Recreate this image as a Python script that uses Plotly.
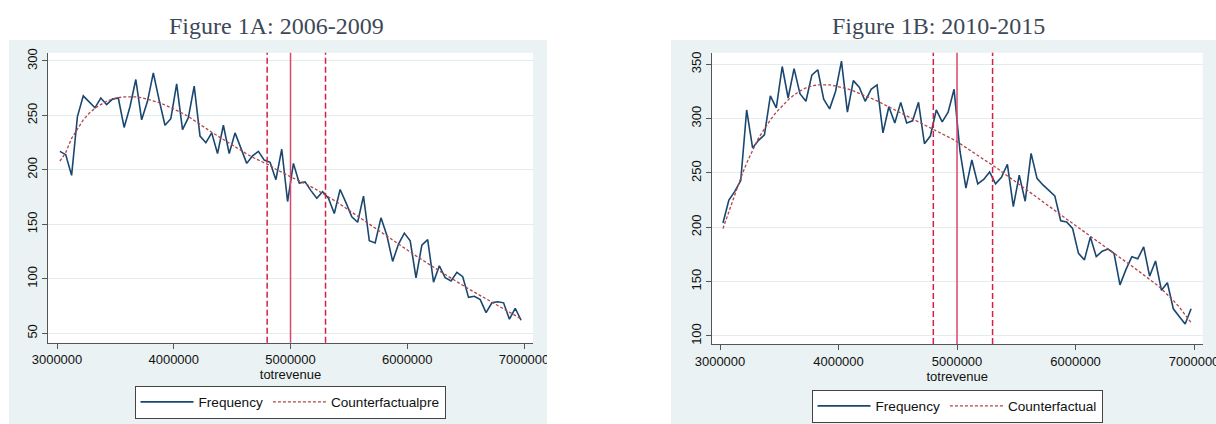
import plotly.graph_objects as go

W, H = 1240, 424   # figure slightly wider than the 1216px window so the last tick label is clipped at the edge

# ---------------- data ----------------
bin_start = 3025000
bin_width = 50000
n_bins = 80
bins = [bin_start + bin_width * i for i in range(n_bins)]

freq_a = [217, 214, 195, 249, 268, 262, 257, 266, 260, 265,
          266, 239, 258, 283, 246, 263, 289, 264, 241, 247,
          279, 237, 248, 277, 231, 225, 234, 215, 241, 215,
          234, 220, 206, 213, 217, 209, 207, 191, 219, 171,
          206, 188, 189, 181, 174, 180, 174, 160, 182, 170,
          157, 152, 176, 135, 133, 156, 140, 116, 132, 142,
          135, 101, 131, 136, 97, 112, 101, 98, 106, 102,
          83, 84, 81, 69, 78, 79, 78, 63, 73, 62]

cf_a = [208, 216, 229, 238, 246, 252, 256.6, 260, 263, 265,
        266.4, 267, 267.3, 267, 266.4, 265, 263.6, 261.8, 259.6, 257.2,
        254.7, 252, 249, 245.6, 242.2, 238.2, 234.6, 231.2, 227.5, 224.2,
        221.1, 217.7, 214.7, 211.6, 209.2, 206.7, 204, 200.6, 197.6, 194.8,
        192.4, 190, 187.5, 184.7, 181.7, 178.6, 175.2, 171.9, 168.5, 164.8,
        161.5, 157.8, 154.1, 150.5, 146.8, 143.1, 139.4, 135.8, 132.1, 128.4,
        124.8, 121.1, 117.7, 114, 110.7, 107.3, 104, 100.6, 97.2, 93.9,
        90.8, 87.8, 84.7, 81.7, 78.6, 75.5, 72.5, 69.4, 66.4, 63.3]

freq_b = [204, 225, 233, 243, 308, 273, 280, 285, 321, 310,
          348, 319, 346, 323, 316, 340, 345, 318, 309, 325,
          353, 306, 335, 329, 316, 327, 331, 287, 311, 296,
          315, 296, 298, 315, 277, 284, 308, 297, 306, 327,
          270, 236, 262, 240, 244, 251, 240, 246, 258, 219,
          248, 224, 268, 245, 239, 234, 229, 206, 205, 199,
          176, 170, 191, 173, 178, 180, 176, 147, 161, 173,
          171, 182, 155, 169, 142, 149, 125, 118, 111, 125]

cf_b = [198.8, 214.7, 230, 245.4, 259.1, 271.4, 282.1, 290.6, 298.9, 305.9,
        312.1, 317.3, 321.8, 325.5, 328.3, 330.1, 331, 331.3, 331, 330.1,
        328.9, 327.4, 325.5, 323.4, 321.2, 318.8, 316.3, 313.6, 310.8, 308.1,
        305.3, 302.6, 299.8, 297.1, 294.3, 291.6, 288.8, 286, 283.3, 280.5,
        277, 273.5, 270, 266.4, 262.8, 259.1, 255.3, 251.4, 247.5, 243.5,
        239.5, 235.5, 231.5, 227.5, 223.5, 219.5, 215.5, 211.5, 207.5, 203.5,
        199.5, 195.5, 191.5, 187.5, 183.6, 179.7, 175.8, 172, 168.2, 164.4,
        160.5, 156.5, 152.4, 148, 143.3, 138.2, 132.7, 126.6, 119.8, 112.3]

x_ticks = [3000000, 4000000, 5000000, 6000000, 7000000]
x_tick_labels = ["3000000", "4000000", "5000000", "6000000", "7000000"]
y_ticks_a = [50, 100, 150, 200, 250, 300]
y_ticks_b = [100, 150, 200, 250, 300, 350]
window_lines = [4800000, 5300000]
threshold = 5000000

titles = ["Figure 1A: 2006-2009", "Figure 1B: 2010-2015"]
x_title = "totrevenue"

# ---------------- styling ----------------
NAVY = "#1a476f"
MAROON = "#b0454b"
CRIMSON = "#d61f47"
CRIMSON_SOLID = "#d9476b"
PANEL = "#eaf2f3"
GRID = "#e3ecee"
AXIS = "#555555"
SANS = "Liberation Sans, Arial, sans-serif"
SERIF = "Liberation Serif, Times New Roman, serif"


def px_x(p):
    return p / W


def px_y(p):
    return 1 - p / H


fig = go.Figure()

fig.add_trace(go.Scatter(x=bins, y=freq_a, mode="lines", name="Frequency",
                         line=dict(color=NAVY, width=1.6),
                         xaxis="x", yaxis="y", legend="legend"))
fig.add_trace(go.Scatter(x=bins, y=cf_a, mode="lines", name="Counterfactualpre",
                         line=dict(color=MAROON, width=1.3, dash="3px,2px"),
                         xaxis="x", yaxis="y", legend="legend"))
fig.add_trace(go.Scatter(x=bins, y=freq_b, mode="lines", name="Frequency",
                         line=dict(color=NAVY, width=1.6),
                         xaxis="x2", yaxis="y2", legend="legend2"))
fig.add_trace(go.Scatter(x=bins, y=cf_b, mode="lines", name="Counterfactual",
                         line=dict(color=MAROON, width=1.3, dash="3px,2px"),
                         xaxis="x2", yaxis="y2", legend="legend2"))

shapes = []
# gray graph regions
shapes.append(dict(type="rect", xref="paper", yref="paper",
                   x0=px_x(9), x1=px_x(547), y0=px_y(424), y1=px_y(40),
                   fillcolor=PANEL, line=dict(width=0), layer="below"))
shapes.append(dict(type="rect", xref="paper", yref="paper",
                   x0=px_x(671), x1=px_x(1240), y0=px_y(424), y1=px_y(40),
                   fillcolor=PANEL, line=dict(width=0), layer="below"))
# white plot regions
for ax in ["", "2"]:
    shapes.append(dict(type="rect", xref="x%s domain" % ax, yref="y%s domain" % ax,
                       x0=0, x1=1, y0=0, y1=1,
                       fillcolor="white", line=dict(width=0), layer="below"))
# vertical reference lines
for ax in ["", "2"]:
    for v in window_lines:
        shapes.append(dict(type="line", xref="x%s" % ax, yref="y%s domain" % ax,
                           x0=v, x1=v, y0=0, y1=1,
                           line=dict(color=CRIMSON, width=1.5, dash="6px,3px")))
    shapes.append(dict(type="line", xref="x%s" % ax, yref="y%s domain" % ax,
                       x0=threshold, x1=threshold, y0=0, y1=1,
                       line=dict(color=CRIMSON_SOLID, width=1.5)))
# clip the last tick label of panel A at the graph region edge
shapes.append(dict(type="rect", xref="paper", yref="paper",
                   x0=px_x(547), x1=px_x(570), y0=px_y(372), y1=px_y(346),
                   fillcolor="white", line=dict(width=0), layer="above"))

common_x = dict(tickmode="array", tickvals=x_ticks, ticktext=x_tick_labels,
                showgrid=False, zeroline=False, showline=True, linecolor=AXIS,
                linewidth=1, ticks="outside", ticklen=5, tickcolor=AXIS,
                automargin=False,
                tickfont=dict(family=SANS, size=13, color="#111"),
                title=dict(text=x_title, font=dict(family=SANS, size=13, color="#111"),
                           standoff=1))
common_y = dict(tickmode="array", showgrid=True, gridcolor=GRID, gridwidth=1,
                zeroline=False, showline=True, linecolor=AXIS, linewidth=1,
                ticks="outside", ticklen=5, tickcolor=AXIS, tickangle=-90,
                automargin=False,
                tickfont=dict(family=SANS, size=13, color="#111"))

legend_common = dict(orientation="h", xanchor="center", yanchor="middle",
                     bgcolor="white", bordercolor="#444", borderwidth=1,
                     font=dict(family=SANS, size=13.6, color="#111"),
                     itemwidth=53, itemclick=False, itemdoubleclick=False)

fig.update_layout(
    width=W, height=H, autosize=False,
    margin=dict(l=0, r=0, t=0, b=0, autoexpand=False),
    paper_bgcolor="white", plot_bgcolor="rgba(0,0,0,0)",
    hovermode=False,
    shapes=shapes,
    xaxis=dict(domain=[px_x(48), px_x(533)], range=[2922900, 7077000],
               anchor="y", **common_x),
    yaxis=dict(domain=[px_y(342.7), px_y(52.7)], range=[41.4, 307.6],
               tickvals=y_ticks_a, anchor="x", **common_y),
    xaxis2=dict(domain=[px_x(711.7), px_x(1202.7)], range=[2930000, 7073000],
                anchor="y2", **common_x),
    yaxis2=dict(domain=[px_y(344), px_y(52.7)], range=[92.6, 360.7],
                tickvals=y_ticks_b, anchor="x2", **common_y),
    legend=dict(x=px_x(290), y=px_y(402), **legend_common),
    legend2=dict(x=px_x(957), y=px_y(406), **legend_common),
    annotations=[
        dict(text=titles[0], xref="paper", yref="paper", x=px_x(276), y=px_y(41),
             xanchor="center", yanchor="bottom", showarrow=False,
             font=dict(family=SERIF, size=24, color="#3d4858")),
        dict(text=titles[1], xref="paper", yref="paper", x=px_x(938), y=px_y(41),
             xanchor="center", yanchor="bottom", showarrow=False,
             font=dict(family=SERIF, size=24, color="#3d4858")),
    ],
)

fig.write_html("out.html",
               config={"displayModeBar": False},
               post_script="document.body.style.margin='0';document.body.style.overflow='hidden';")
